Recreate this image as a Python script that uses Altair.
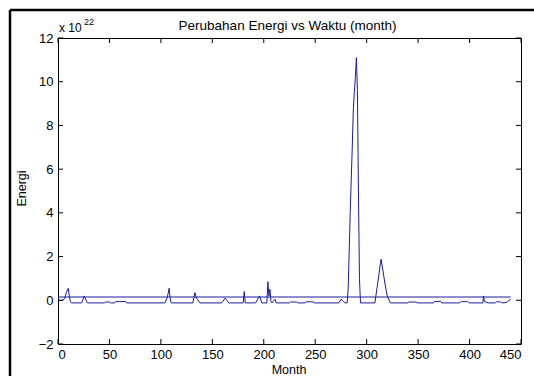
import altair as alt
import pandas as pd

# ---- data (values in units of 10^22) ----
months = [0, 5, 7, 8, 10, 11, 12, 13, 23, 25.5, 28.5, 45, 46, 50, 51, 55, 56, 66, 67,
          104, 106, 107, 108, 109, 110, 131, 133, 134.5, 136, 138, 159, 162.5, 166,
          180, 181, 182, 192, 196, 198, 203, 204, 205, 206, 207, 208, 210, 211, 212,
          225, 226, 232, 233, 240, 241, 248, 249, 273, 275, 277, 279, 281,
          282, 283, 284, 285, 286, 287, 288, 289, 290, 291, 292, 293, 294,
          308, 314, 316, 318, 320, 323, 340, 341, 348, 349, 365, 366, 372, 373,
          390, 392, 398, 400, 413, 413.5, 414.5, 416, 418, 425, 426, 430, 431,
          436, 438, 440]
energy = [0.0, 0.0, 0.15, 0.35, 0.55, 0.2, -0.05, -0.12, -0.12, 0.2, -0.12, -0.12, -0.08, -0.08, -0.12, -0.12, -0.06, -0.06, -0.12,
          -0.12, 0.1, 0.3, 0.55, 0.1, -0.12, -0.12, 0.35, 0.1, 0.02, -0.12, -0.12, 0.1, -0.12,
          -0.12, 0.4, -0.12, -0.12, 0.2, -0.12, -0.12, 0.85, 0.2, 0.5, -0.05, -0.12, 0.0, 0.05, -0.12,
          -0.12, -0.08, -0.08, -0.12, -0.12, -0.07, -0.07, -0.12, -0.12, 0.05, -0.02, -0.12, -0.12,
          0.5, 2.2, 4.0, 5.5, 7.0, 8.7, 9.5, 10.2, 11.1, 9.6, 5.0, 1.0, -0.12,
          -0.12, 1.88, 1.3, 0.7, 0.2, -0.12, -0.12, -0.08, -0.08, -0.12, -0.12, -0.05, -0.05, -0.12,
          -0.12, -0.06, -0.06, -0.12, -0.12, 0.2, -0.05, -0.08, -0.12, -0.12, -0.07, -0.07, -0.12,
          -0.1, -0.02, 0.05]
ref_months = [0, 440]
ref_energy = [0.15, 0.15]
xticks = [0, 50, 100, 150, 200, 250, 300, 350, 400, 450]
yticks = [-2, 0, 2, 4, 6, 8, 10, 12]
title_text = "Perubahan Energi vs Waktu (month)"

W, H = 463, 306
FONT = "Liberation Sans"
LINE_COLOR = "#1c1c9c"
LBL = 13

xscale = alt.Scale(domain=[0, 450], nice=False, zero=False)
yscale = alt.Scale(domain=[-2, 12], nice=False, zero=False)

df = pd.DataFrame({"Month": months, "Energi": energy})
ref = pd.DataFrame({"Month": ref_months, "Energi": ref_energy})
xt = pd.DataFrame({"Month": xticks})
yt = pd.DataFrame({"Energi": yticks})
one = pd.DataFrame({"a": [0]})

xaxis = alt.Axis(values=xticks, title="Month", grid=False, domain=False, ticks=False,
                 labelPadding=4, labelFont=FONT, labelFontSize=LBL, labelColor="black",
                 titleFont=FONT, titleFontSize=12.5, titleFontWeight="normal", titleColor="black",
                 titleX=W / 2 - 1, titleY=25, titleBaseline="middle", titleAlign="center")
yaxis = alt.Axis(values=yticks, title="Energi", grid=False, domain=False, ticks=False,
                 labelPadding=5, labelFont=FONT, labelFontSize=LBL, labelColor="black",
                 titleFont=FONT, titleFontSize=12.5, titleFontWeight="normal", titleColor="black",
                 titleX=-37, titleY=H / 2 - 3, titleAngle=270, titleBaseline="middle", titleAlign="center")

line = alt.Chart(df).mark_line(color=LINE_COLOR, strokeWidth=1).encode(
    x=alt.X("Month:Q", scale=xscale, axis=xaxis),
    y=alt.Y("Energi:Q", scale=yscale, axis=yaxis),
)
refline = alt.Chart(ref).mark_line(color=LINE_COLOR, strokeWidth=1).encode(
    x=alt.X("Month:Q", scale=xscale),
    y=alt.Y("Energi:Q", scale=yscale),
)

bottom_ticks = alt.Chart(xt).mark_rule(color="black", strokeWidth=1).encode(
    x=alt.X("Month:Q", scale=xscale), y=alt.value(H), y2=alt.value(H - 5))
top_ticks = alt.Chart(xt).mark_rule(color="black", strokeWidth=1).encode(
    x=alt.X("Month:Q", scale=xscale), y=alt.value(0), y2=alt.value(5))
left_ticks = alt.Chart(yt).mark_rule(color="black", strokeWidth=1).encode(
    y=alt.Y("Energi:Q", scale=yscale), x=alt.value(0), x2=alt.value(5))
right_ticks = alt.Chart(yt).mark_rule(color="black", strokeWidth=1).encode(
    y=alt.Y("Energi:Q", scale=yscale), x=alt.value(W), x2=alt.value(W - 5))

frame_top = alt.Chart(one).mark_rule(color="black", strokeWidth=2.5).encode(
    x=alt.value(-48), x2=alt.value(480), y=alt.value(-28))
frame_left = alt.Chart(one).mark_rule(color="black", strokeWidth=2.5).encode(
    x=alt.value(-48), y=alt.value(-28), y2=alt.value(340))

title = alt.Chart(one).mark_text(font=FONT, fontSize=13.5, color="black", align="center",
                                 baseline="alphabetic").encode(
    x=alt.value(W / 2 - 2), y=alt.value(-8), text=alt.value(title_text))
exp_base = alt.Chart(one).mark_text(font=FONT, fontSize=12, color="black", align="left",
                                    baseline="alphabetic").encode(
    x=alt.value(1), y=alt.value(-6), text=alt.value("x 10"))
exp_sup = alt.Chart(one).mark_text(font=FONT, fontSize=9, color="black", align="left",
                                   baseline="alphabetic").encode(
    x=alt.value(26), y=alt.value(-13), text=alt.value("22"))

chart = alt.layer(
    line, refline, bottom_ticks, top_ticks, left_ticks, right_ticks,
    frame_top, frame_left, title, exp_base, exp_sup
).properties(
    width=W, height=H,
    autosize=alt.AutoSizeParams(type="none"),
    padding={"left": 58, "top": 38, "right": 13, "bottom": 32},
    background="white",
).configure_view(stroke="black", strokeWidth=1)

chart.save("out.html", embed_options={"renderer": "svg", "actions": False})
